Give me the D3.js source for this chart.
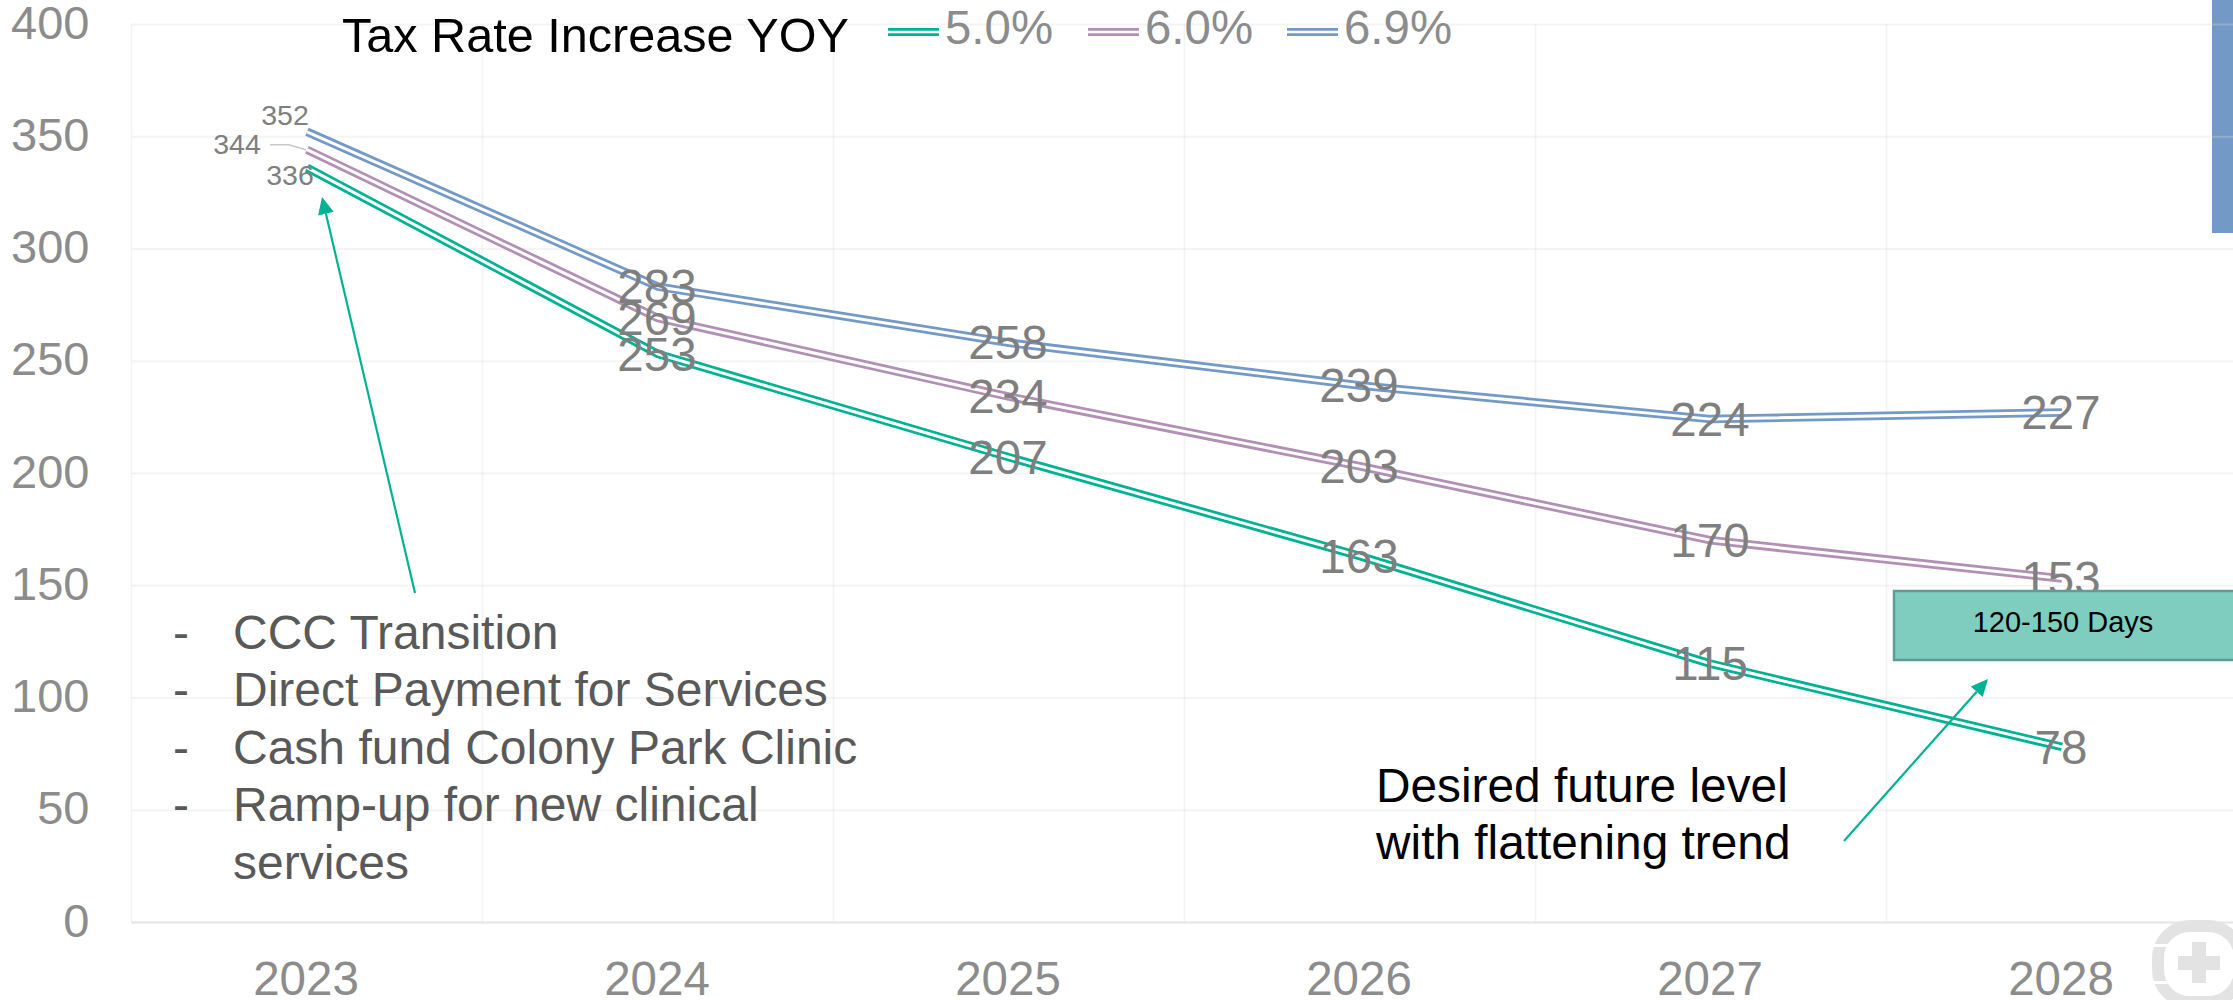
<!DOCTYPE html>
<html>
<head>
<meta charset="utf-8">
<title>Tax Rate Increase YOY</title>
<script src="https://cdn.jsdelivr.net/npm/d3@7/dist/d3.min.js"></script>
<style>
  html, body { margin: 0; padding: 0; background: #fff; overflow: hidden; }
  svg { display: block; }
  text { font-family: "Liberation Sans", Arial, sans-serif; }
</style>
</head>
<body>
<svg id="chart" width="2233" height="1000"></svg>
<script>
// Chart data
const years = ["2023", "2024", "2025", "2026", "2027", "2028"];
const rateNames = ["5.0%", "6.0%", "6.9%"];
const rate50 = [336, 253, 207, 163, 115, 78];
const rate60 = [344, 269, 234, 203, 170, 153];
const rate69 = [352, 283, 258, 239, 224, 227];
const rateColors = ["#00b294", "#b28fb5", "#7399c6"];
const yTicks = [0, 50, 100, 150, 200, 250, 300, 350, 400];
const legendTitle = "Tax Rate Increase YOY";
const noteLines = ["CCC Transition", "Direct Payment for Services", "Cash fund Colony Park Clinic", "Ramp-up for new clinical", "services"];
const noteBullets = [true, true, true, true, false];
const futureLines = ["Desired future level", "with flattening trend"];
const boxLabel = "120-150 Days";

const seriesList = [rate50, rate60, rate69];

const svg = d3.select("#chart");
const TEAL = rateColors[0];
const GRID = "rgba(217,217,217,0.3)";

const x = d3.scaleBand().domain(years).range([131.5, 2237.5]);
const y = d3.scaleLinear().domain([0, 400]).range([922, 24]);
const cx = yr => x(yr) + x.bandwidth() / 2;

// Blue panel behind the plot at the upper right
svg.append("rect").attr("x", 2212).attr("y", 0).attr("width", 21).attr("height", 233).attr("fill", "#7399c6");

// Grid and axes
const yAxis = svg.append("g").attr("transform", "translate(131.5,0)")
  .call(d3.axisLeft(y).tickValues(yTicks).tickSize(-2106).tickPadding(42));
yAxis.select(".domain").remove();
yAxis.selectAll("line").attr("stroke", GRID).attr("stroke-width", 2);
yAxis.selectAll("line").filter(d => d === 0).attr("stroke", "#e4e4e4");
yAxis.selectAll("text").attr("font-size", 47).attr("fill", "#8c8c8c")
  .style("font-family", '"Liberation Sans", Arial, sans-serif').attr("dy", "0.3em");

svg.append("g").selectAll("line").data(years.concat(["end"])).join("line")
  .attr("x1", d => d === "end" ? 2237.5 : x(d)).attr("x2", d => d === "end" ? 2237.5 : x(d))
  .attr("y1", 24).attr("y2", 922).attr("stroke", GRID).attr("stroke-width", 1.5);

const xAxis = svg.append("g").attr("transform", "translate(0,922)")
  .call(d3.axisBottom(x).tickSize(0));
xAxis.select(".domain").remove();
xAxis.selectAll("text").attr("font-size", 47.5).attr("fill", "#8c8c8c")
  .style("font-family", '"Liberation Sans", Arial, sans-serif')
  .attr("x", -1).attr("y", 73).attr("dy", 0);

// Double-stroked series lines: a coloured band with a white core
const line = d3.line().x((d, i) => cx(years[i])).y(d => y(d));
const seriesG = svg.append("g").attr("fill", "none").attr("stroke-linejoin", "round");
seriesList.forEach((vals, k) => {
  seriesG.append("path").attr("d", line(vals)).attr("stroke", rateColors[k]).attr("stroke-width", 8.5);
  seriesG.append("path").attr("d", line(vals)).attr("stroke", "#fff").attr("stroke-width", 3);
});

// Leader from the middle first-year label
const x0 = cx(years[0]);
svg.append("path")
  .attr("d", `M${x0 - 37},${y(rate60[0]) - 5} L${x0 - 18},${y(rate60[0]) - 5} L${x0 - 1},${y(rate60[0])}`)
  .attr("fill", "none").attr("stroke", "#c8c8c8").attr("stroke-width", 1.5);

// Value labels
const labelG = svg.append("g").attr("fill", "#7f7f7f").attr("text-anchor", "middle");
seriesList.forEach((vals, k) => {
  vals.slice(1).forEach((v, i) => {
    labelG.append("text").attr("x", cx(years[i + 1]) - 1).attr("y", y(v)).attr("dy", "0.35em")
      .attr("font-size", 47.5).text(v);
  });
});
// First-year labels are smaller and sit beside the line starts
const firstOffsets = [[-17, 7], [-70, -6], [-22, -17]];
seriesList.forEach((vals, k) => {
  labelG.append("text")
    .attr("x", x0 + firstOffsets[k][0]).attr("y", y(vals[0]) + firstOffsets[k][1]).attr("dy", "0.36em")
    .attr("font-size", 28.5).text(vals[0]);
});

// Legend
svg.append("text").attr("x", 342).attr("y", 52).attr("font-size", 48.6).attr("fill", "#000").text(legendTitle);
const legendX = [888, 1088, 1287];
rateNames.forEach((name, k) => {
  const g = svg.append("g").attr("transform", `translate(${legendX[k]},0)`);
  g.append("line").attr("x1", 0).attr("x2", 51).attr("y1", 32).attr("y2", 32)
    .attr("stroke", rateColors[k]).attr("stroke-width", 8);
  g.append("line").attr("x1", 0).attr("x2", 51).attr("y1", 32).attr("y2", 32)
    .attr("stroke", "#fff").attr("stroke-width", 2.5);
  g.append("text").attr("x", 57).attr("y", 44).attr("font-size", 47.4).attr("fill", "#8c8c8c").text(name);
});

// Arrow annotations
function arrow(x1, y1, x2, y2) {
  const a = Math.atan2(y2 - y1, x2 - x1), len = 17, half = 8;
  const bx = x2 - len * Math.cos(a), by = y2 - len * Math.sin(a);
  svg.append("line").attr("x1", x1).attr("y1", y1).attr("x2", bx).attr("y2", by)
    .attr("stroke", TEAL).attr("stroke-width", 2.2);
  svg.append("path")
    .attr("d", `M${x2},${y2} L${bx + half * Math.sin(a)},${by - half * Math.cos(a)} L${bx - half * Math.sin(a)},${by + half * Math.cos(a)} Z`)
    .attr("fill", TEAL);
}
arrow(415, 593, 322, 197);
arrow(1844, 841, 1988, 679);

// Bulleted note at the lower left
const noteG = svg.append("g").attr("font-size", 48).attr("fill", "#595959");
noteLines.forEach((t, i) => {
  const by = 649 + i * 57.4;
  if (noteBullets[i]) noteG.append("text").attr("x", 173).attr("y", by).text("-");
  noteG.append("text").attr("x", 233).attr("y", by).text(t);
});

// Note about the desired future level
futureLines.forEach((t, i) => {
  svg.append("text").attr("x", 1376).attr("y", 802 + i * 57).attr("font-size", 47.8).attr("fill", "#000").text(t);
});

// Target range box, drawn over the label beneath it
svg.append("rect").attr("x", 1894).attr("y", 591).attr("width", 360).attr("height", 69)
  .attr("fill", "#7fcdbf").attr("stroke", "#5f9c93").attr("stroke-width", 2.5);
svg.append("text").attr("x", 2063).attr("y", 632).attr("text-anchor", "middle")
  .attr("font-size", 29).attr("fill", "#000").text(boxLabel);

// Corner logo mark
const logo = svg.append("g");
logo.append("rect").attr("x", 2158).attr("y", 926).attr("width", 82).attr("height", 76).attr("rx", 32)
  .attr("fill", "none").attr("stroke", "#e3e3e3").attr("stroke-width", 12);
logo.append("rect").attr("x", 2148).attr("y", 944).attr("width", 22).attr("height", 3).attr("fill", "#fff");
logo.append("rect").attr("x", 2148).attr("y", 981).attr("width", 22).attr("height", 3).attr("fill", "#fff");
logo.append("rect").attr("x", 2178).attr("y", 956).attr("width", 42).attr("height", 14).attr("fill", "#e3e3e3");
logo.append("rect").attr("x", 2192).attr("y", 942).attr("width", 14).attr("height", 41).attr("fill", "#e3e3e3");
</script>
</body>
</html>
